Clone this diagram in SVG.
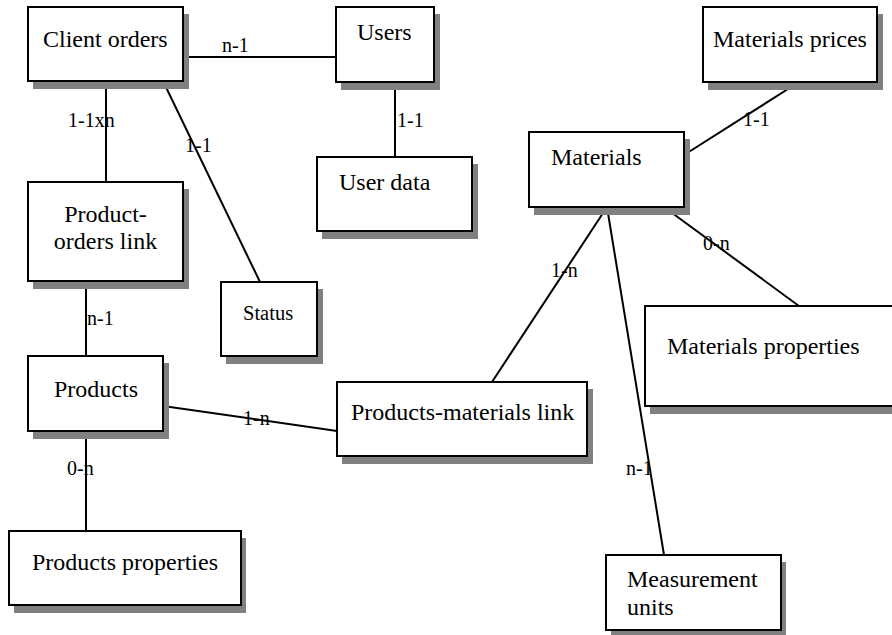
<svg xmlns="http://www.w3.org/2000/svg" width="892" height="635" viewBox="0 0 892 635">
  <defs>
    <style>
      .shadow { fill: #808080; stroke: none; }
      .box { fill: #ffffff; stroke: #000000; stroke-width: 2; }
      .name { font-family: "Liberation Serif", "Times New Roman", serif; font-size: 24px; fill: #000000; }
      .small { font-size: 20.5px; }
      .edge { stroke: #000000; stroke-width: 2; fill: none; }
      .card { font-family: "Liberation Serif", "Times New Roman", serif; font-size: 20px; fill: #000000; }
    </style>
  </defs>
  <rect width="892" height="635" fill="#ffffff"/>

  <!-- relationship lines -->
  <g id="connectors">
    <line class="edge" x1="183" y1="57" x2="336" y2="57"/>
    <line class="edge" x1="395" y1="82" x2="395" y2="157"/>
    <line class="edge" x1="106" y1="81" x2="106" y2="182"/>
    <line class="edge" x1="163" y1="81" x2="260" y2="282"/>
    <line class="edge" x1="86" y1="281" x2="86" y2="356"/>
    <line class="edge" x1="163" y1="406" x2="337" y2="431"/>
    <line class="edge" x1="86" y1="431" x2="86" y2="531"/>
    <line class="edge" x1="799" y1="82" x2="684" y2="155"/>
    <line class="edge" x1="664" y1="207" x2="799" y2="306"/>
    <line class="edge" x1="607" y1="207" x2="492" y2="382"/>
    <line class="edge" x1="607" y1="207" x2="664" y2="555"/>

    <text class="card" x="222" y="52">n-1</text>
    <text class="card" x="397" y="127">1-1</text>
    <text class="card" x="68" y="127">1-1xn</text>
    <text class="card" x="185" y="152">1-1</text>
    <text class="card" x="87" y="325">n-1</text>
    <text class="card" x="243" y="425">1-n</text>
    <text class="card" x="67" y="475">0-n</text>
    <text class="card" x="743" y="126">1-1</text>
    <text class="card" x="703" y="250">0-n</text>
    <text class="card" x="551" y="277">1-n</text>
    <text class="card" x="626" y="475">n-1</text>
  </g>

  <g id="client-orders">
    <rect class="shadow" x="33" y="14" width="156" height="75"/>
    <rect class="box" x="28" y="7" width="155" height="74"/>
    <text class="name" x="43" y="47">Client orders</text>
  </g>

  <g id="users">
    <rect class="shadow" x="341" y="14" width="99" height="76"/>
    <rect class="box" x="336" y="7" width="98" height="75"/>
    <text class="name" x="357" y="40">Users</text>
  </g>

  <g id="user-data">
    <rect class="shadow" x="322" y="164" width="156" height="75"/>
    <rect class="box" x="317" y="157" width="155" height="74"/>
    <text class="name" x="339" y="190">User data</text>
  </g>

  <g id="materials-prices">
    <rect class="shadow" x="708" y="14" width="175" height="76"/>
    <rect class="box" x="703" y="7" width="174" height="75"/>
    <text class="name" x="713" y="47">Materials prices</text>
  </g>

  <g id="materials">
    <rect class="shadow" x="534" y="139" width="156" height="76"/>
    <rect class="box" x="529" y="132" width="155" height="75"/>
    <text class="name" x="551" y="165">Materials</text>
  </g>

  <g id="product-orders-link">
    <rect class="shadow" x="33" y="189" width="156" height="100"/>
    <rect class="box" x="28" y="182" width="155" height="99"/>
    <text class="name" x="105.5" y="222" text-anchor="middle">Product-</text>
    <text class="name" x="105.5" y="249" text-anchor="middle">orders link</text>
  </g>

  <g id="status">
    <rect class="shadow" x="226" y="289" width="97" height="75"/>
    <rect class="box" x="221" y="282" width="96" height="74"/>
    <text class="name small" x="243" y="320">Status</text>
  </g>

  <g id="products">
    <rect class="shadow" x="33" y="363" width="136" height="76"/>
    <rect class="box" x="28" y="356" width="135" height="75"/>
    <text class="name" x="54" y="397">Products</text>
  </g>

  <g id="products-materials-link">
    <rect class="shadow" x="342" y="389" width="251" height="75"/>
    <rect class="box" x="337" y="382" width="250" height="74"/>
    <text class="name" x="351" y="420">Products-materials link</text>
  </g>

  <g id="materials-properties">
    <rect class="shadow" x="650" y="313" width="260" height="101"/>
    <rect class="box" x="645" y="306" width="260" height="100"/>
    <text class="name" x="667" y="354">Materials properties</text>
  </g>

  <g id="products-properties">
    <rect class="shadow" x="14" y="538" width="232" height="75"/>
    <rect class="box" x="9" y="531" width="232" height="74"/>
    <text class="name" x="32" y="570">Products properties</text>
  </g>

  <g id="measurement-units">
    <rect class="shadow" x="611" y="562" width="175" height="76"/>
    <rect class="box" x="606" y="555" width="175" height="75"/>
    <text class="name" x="627" y="587">Measurement</text>
    <text class="name" x="627" y="615">units</text>
  </g>
</svg>
